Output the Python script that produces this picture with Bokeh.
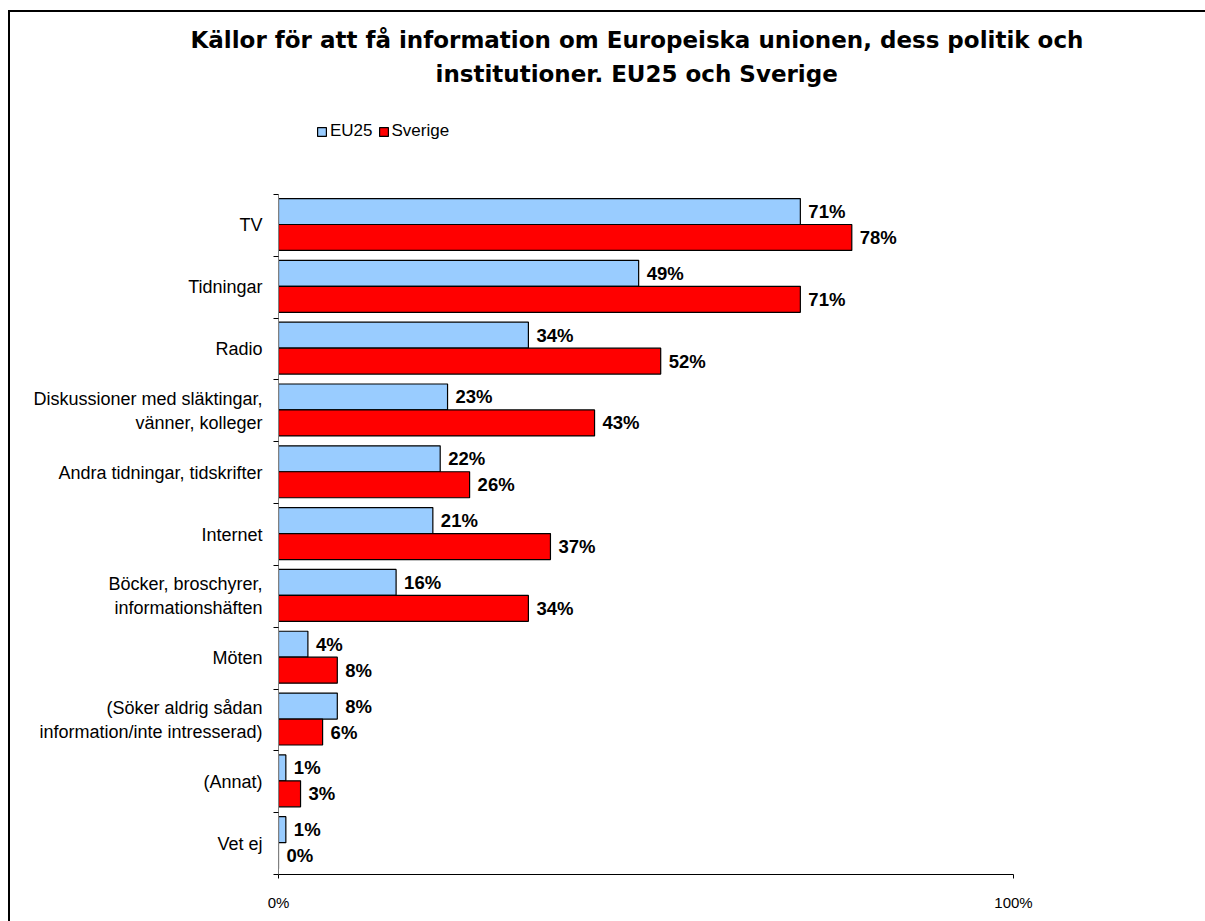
from bokeh.plotting import figure
from bokeh.models import (Range1d, FixedTicker, LabelSet, ColumnDataSource,
                          Legend, LegendItem, Title)
from bokeh.core.properties import value
from bokeh.embed import file_html
from bokeh.resources import INLINE

# ---- data ----
categories = [
    "TV",
    "Tidningar",
    "Radio",
    "Diskussioner med släktingar,\nvänner, kolleger",
    "Andra tidningar, tidskrifter",
    "Internet",
    "Böcker, broschyrer,\ninformationshäften",
    "Möten",
    "(Söker aldrig sådan\ninformation/inte intresserad)",
    "(Annat)",
    "Vet ej",
]
eu25 = [71, 49, 34, 23, 22, 21, 16, 4, 8, 1, 1]
sverige = [78, 71, 52, 43, 26, 37, 34, 8, 6, 3, 0]
series_names = ["EU25", "Sverige"]
x_ticks = [0, 100]
x_tick_labels = ["0%", "100%"]
title_lines = [
    "Källor för att få information om Europeiska unionen, dess politik och",
    "institutioner. EU25 och Sverige",
]

BLUE = "#99CCFF"
RED = "#FF0000"
FONT = "Liberation Sans"
n = len(categories)
centers = [n - i - 0.5 for i in range(n)]
y_top = n + 94 / 61.8   # room above the bars for the legend

src = ColumnDataSource(dict(
    y_eu=[c + 0.225 for c in centers],
    y_se=[c - 0.195 for c in centers],
    eu=eu25,
    se=sverige,
    eu_txt=[f"{v}%" for v in eu25],
    se_txt=[f"{v}%" for v in sverige],
))

p = figure(width=1205, height=921, output_backend="svg", toolbar_location=None,
           title=None,
           x_range=Range1d(0, 100), y_range=Range1d(0, y_top),
           min_border_left=278, min_border_right=192, min_border_top=100,
           min_border_bottom=47)
p.styles = {"background": "linear-gradient(#000,#000) 8px 10px / 1197px 2px no-repeat, "
                          "linear-gradient(#000,#000) 8px 10px / 2px 911px no-repeat, #fff"}
p.border_fill_color = None
p.background_fill_color = None
p.outline_line_color = None
p.xgrid.visible = False
p.ygrid.visible = False

r_eu = p.hbar(y="y_eu", left=0, right="eu", height=0.42, source=src,
              fill_color=BLUE, line_color="black", line_width=1.2)
r_se = p.hbar(y="y_se", left=0, right="se", height=0.42, source=src,
              fill_color=RED, line_color="black", line_width=1.2)

for col, ycol in (("eu", "y_eu"), ("se", "y_se")):
    p.add_layout(LabelSet(x=col, y=ycol, text=col + "_txt", source=src, x_offset=8,
                          text_align="left", text_baseline="middle",
                          text_font=value(FONT), text_font_size="18.5px",
                          text_font_style="bold", text_color="black"))

# y axis (categories): labels at centres, ticks at boundaries
ya = p.yaxis[0]
ya.ticker = FixedTicker(ticks=centers, minor_ticks=list(range(n + 1)))
ya.bounds = (0, n)
ya.major_label_overrides = {c: lab for c, lab in zip(centers, categories)}
ya.major_tick_out = 0
ya.major_tick_in = 0
ya.minor_tick_out = 5
ya.minor_tick_in = 0
ya.minor_tick_line_color = "black"
ya.axis_line_color = "#808080"
ya.major_label_standoff = 11
ya.major_label_text_font = FONT
ya.major_label_text_font_size = "18px"
ya.major_label_text_color = "black"

xa = p.xaxis[0]
xa.ticker = FixedTicker(ticks=x_ticks, minor_ticks=[])
xa.major_label_overrides = {t: s for t, s in zip(x_ticks, x_tick_labels)}
xa.major_tick_out = 4
xa.major_tick_in = 0
xa.axis_line_color = "black"
xa.major_tick_line_color = "black"
xa.major_label_standoff = 15
xa.major_label_text_font = FONT
xa.major_label_text_font_size = "15px"
xa.major_label_text_color = "black"

# title: two lines (first added sits nearest the frame)
for line, standoff, offset in ((title_lines[1], 27, 157),
                               (title_lines[0], -14, -88)):
    p.add_layout(Title(text=line, align="left", offset=offset, standoff=standoff,
                       text_font="DejaVu Sans", text_font_style="bold",
                       text_font_size="23px", text_line_height=1.15,
                       text_color="black"), "above")

legend = Legend(items=[LegendItem(label=series_names[0], renderers=[r_eu]),
                       LegendItem(label=series_names[1], renderers=[r_se])],
                location=(38, 733), orientation="horizontal",
                glyph_width=11, glyph_height=11, label_standoff=3, spacing=5,
                padding=0, margin=0, border_line_color=None,
                background_fill_alpha=0,
                label_text_font=FONT, label_text_font_size="17px",
                label_text_color="black", label_height=14)
p.add_layout(legend, "center")

open("out.html", "w").write(file_html(p, INLINE))
